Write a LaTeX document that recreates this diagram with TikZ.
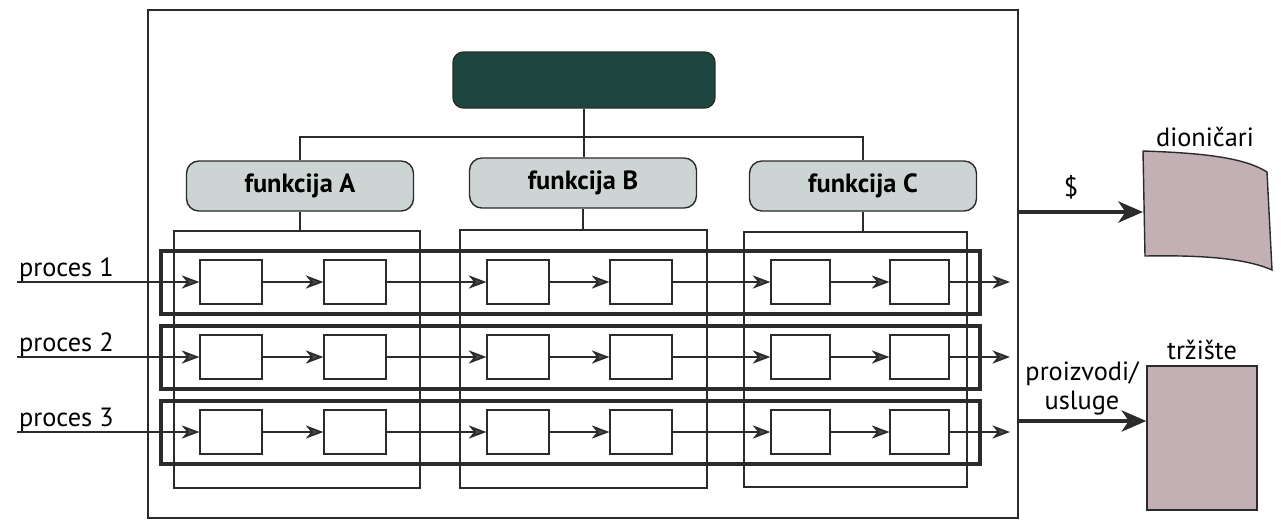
\documentclass[tikz,border=0pt]{standalone}
\usepackage{fontspec}
\setmainfont{PT Sans}
\usepackage{tikz}
\usetikzlibrary{positioning}
\usetikzlibrary{arrows.meta,fit}
\definecolor{darkteal}{HTML}{1E4640}
\definecolor{funcgray}{HTML}{CDD4D4}
\definecolor{mauve}{HTML}{C3B0B5}
\definecolor{ink}{HTML}{2B2B2B}
\definecolor{tipgray}{HTML}{4A4A4A}
\tikzstyle{topbox}=[draw=ink,fill=darkteal,rounded corners=6pt,line width=0.8pt,minimum width=5.24cm,minimum height=1.12cm]
\tikzstyle{funcbox}=[draw=ink,fill=funcgray,rounded corners=7pt,line width=0.8pt,minimum width=4.54cm,minimum height=1cm,font=\fontsize{15}{17}\selectfont\bfseries]
\tikzstyle{framebox}=[draw=ink,line width=0.7pt,inner sep=0pt]
\tikzstyle{colbox}=[draw=ink,line width=0.6pt,inner sep=0pt]
\tikzstyle{procrow}=[draw=ink,line width=2pt,inner sep=0pt]
\tikzstyle{stepbox}=[draw=ink,fill=white,line width=0.7pt,inner sep=0pt]
\tikzstyle{marketbox}=[draw=ink,fill=mauve,line width=0.8pt,inner sep=0pt]
\tikzstyle{link} = [draw=ink,line width=0.8pt]
\tikzstyle{flow} = [draw=ink,line width=1pt,-{Stealth[length=10pt,width=7.5pt,inset=3pt,fill=tipgray]}]
\tikzstyle{bigflow} = [draw=ink,line width=2.4pt,-{Stealth[length=14pt,width=12pt,inset=4pt,fill=tipgray]}]
\tikzstyle{lbl} = [font=\fontsize{15}{16.5}\selectfont,inner sep=1pt]

\begin{document}
\begin{tikzpicture}[x=0.02cm,y=-0.02cm]
    \useasboundingbox (0,0) rectangle (1281,525);
    % organisation frame and hierarchy
    \node[framebox, fit={(148,10) (1018,518)}] (org) {};
    \node[topbox] (top) at (584,80) {};
    \node[funcbox] (fA) at (300,186) {funkcija A};
    \node[funcbox] (fB) at (583,183) {funkcija B};
    \node[funcbox] (fC) at (863,186) {funkcija C};
    \coordinate (bar) at (584,137);
    \draw[link] (top.south) -- (bar);
    \draw[link] (fA.north) |- (bar) -| (fC.north);
    \draw[link] (bar) -- (bar |- fB.north);

    % function columns
    \node[colbox, fit={(174,231) (420,488)}] (colA) {};
    \node[colbox, fit={(460,230) (707,488)}] (colB) {};
    \node[colbox, fit={(744,232) (967,487)}] (colC) {};
    \foreach \f in {A,B,C}
        \draw[link] (f\f.south) -- (f\f.south |- col\f.north);

    % process rows with their steps
    \foreach \r/\y in {1/282, 2/357, 3/432} {
        \node[procrow, fit={(161,\y-31) (980,\y+32)}] (row\r) {};
        \foreach \c/\xa/\xb in {1/200/262, 2/324/386, 3/487/549, 4/610/672, 5/771/830, 6/890/949}
            \node[stepbox, fit={(\xa,\y-22) (\xb,\y+22)}] (b\r\c) {};
        \foreach \c/\d in {1/2, 2/3, 3/4, 4/5, 5/6}
            \draw[flow] (b\r\c.east) -- (b\r\d.west);
        \coordinate (in\r) at (17,\y);
        \coordinate (out\r) at (1010,\y);
        \node[lbl, anchor=base west] (p\r) at (17,\y-6) {proces \r};
        \draw[flow] (in\r) -- (b\r1.west);
        \draw[flow] (b\r6.east) -- (out\r);
    }

    % outside: shareholders and market
    \draw[draw=ink, fill=mauve, line width=0.8pt] (1143,151) .. controls (1205,153) and (1245,158) .. (1267,172)
        -- (1272,270) .. controls (1245,258) and (1200,255) .. (1145,256) -- cycle;
    \node[lbl] (dion) at (1205,137) {dioničari};
    \coordinate (dolout) at (1018,212);
    \coordinate (dolin) at (1143,212);
    \draw[bigflow] (dolout) -- (dolin);
    \node[lbl] (dol) at (1071,187) {\$};

    \node[marketbox, fit={(1147,366) (1257,510)}] (trz) {};
    \node[lbl, above=2pt of trz] (trzl) {tržište};
    \coordinate (prodout) at (1018,421);
    \draw[bigflow] (prodout) -- (prodout -| trz.west);
    \node[lbl, align=center] (prod) at (1082,388) {proizvodi/\\usluge};
\end{tikzpicture}
\end{document}
